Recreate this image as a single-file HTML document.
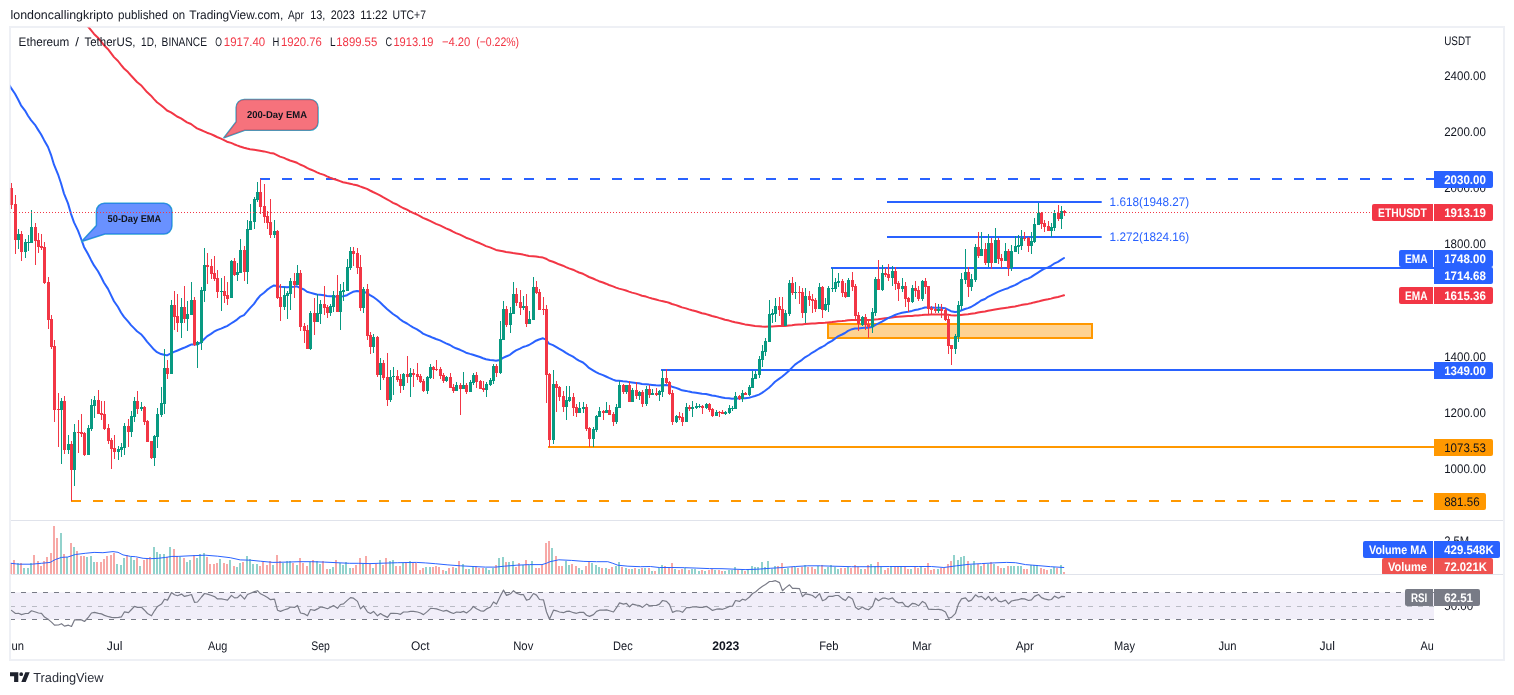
<!DOCTYPE html>
<html lang="en"><head><meta charset="utf-8"><title>ETHUSDT chart - TradingView</title>
<style>html,body{margin:0;padding:0;background:#fff;}body{width:1514px;height:695px;overflow:hidden;font-family:"Liberation Sans", "DejaVu Sans", sans-serif;}svg text{white-space:pre;text-rendering:geometricPrecision;}</style>
</head><body>
<svg width="1514" height="695" viewBox="0 0 1514 695" font-family='"Liberation Sans", "DejaVu Sans", sans-serif' style="display:block">
<rect x="0" y="0" width="1514" height="695" fill="#fff"/>
<defs><clipPath id="cm"><rect x="10.5" y="27.5" width="1492.5" height="492.5"/></clipPath><clipPath id="cv"><rect x="10.5" y="521" width="1492.5" height="53"/></clipPath><clipPath id="cr"><rect x="10.5" y="575" width="1492.5" height="58"/></clipPath><clipPath id="cvl"><rect x="1300" y="550" width="214" height="24"/></clipPath><clipPath id="ct"><rect x="11" y="633" width="1423" height="26"/></clipPath></defs>
<rect x="10" y="27" width="1494" height="633" fill="none" stroke="#eef0f5" stroke-width="2"/>
<g clip-path="url(#cm)">
<rect x="828" y="324" width="264" height="14" fill="#fed292" stroke="#ff9800" stroke-width="2"/>
<line x1="260" y1="179" x2="1434" y2="179" stroke="#2962ff" stroke-width="2" stroke-dasharray="10 12"/>
<line x1="887" y1="202" x2="1101.7" y2="202" stroke="#2962ff" stroke-width="2"/>
<line x1="887" y1="237" x2="1101.7" y2="237" stroke="#2962ff" stroke-width="2"/>
<line x1="831" y1="268" x2="1434" y2="268" stroke="#2962ff" stroke-width="2"/>
<line x1="661" y1="370" x2="1434" y2="370" stroke="#2962ff" stroke-width="2"/>
<line x1="548" y1="447" x2="1434" y2="447" stroke="#ff9800" stroke-width="2"/>
<line x1="71" y1="501" x2="1434" y2="501" stroke="#ff9800" stroke-width="2" stroke-dasharray="10 12"/>
<polyline fill="none" stroke="#f23645" stroke-width="2" stroke-linejoin="round" stroke-linecap="round" points="7.7,-59.5 11.0,-56.6 15.0,-53.7 18.0,-50.8 21.0,-47.8 25.0,-44.9 28.0,-42.1 31.0,-39.4 35.0,-36.6 38.0,-33.8 41.0,-31.0 44.0,-27.9 48.0,-24.4 51.0,-20.8 54.0,-16.5 58.0,-12.3 61.0,-8.1 64.0,-3.6 68.0,0.9 71.0,5.5 74.0,9.7 78.0,13.9 81.0,18.1 84.0,22.5 88.0,26.5 91.0,30.2 94.0,33.9 98.0,37.7 101.0,41.4 104.0,45.3 108.0,49.2 111.0,53.2 114.0,57.1 118.0,61.0 121.0,64.9 124.0,68.5 128.0,72.1 131.0,75.5 134.0,78.7 137.0,82.0 141.0,85.2 144.0,88.6 147.0,92.1 151.0,95.7 154.0,99.1 157.0,102.2 161.0,105.2 164.0,107.8 167.0,110.5 171.0,112.4 174.0,114.4 177.0,116.5 181.0,118.4 184.0,120.4 187.0,122.3 191.0,124.0 194.0,126.2 197.0,128.4 201.0,130.0 204.0,131.3 207.0,132.7 211.0,134.1 214.0,135.5 217.0,137.0 221.0,138.6 224.0,140.1 227.0,141.7 231.0,142.9 234.0,144.2 237.0,145.4 240.0,146.5 244.0,147.7 247.0,148.5 250.0,149.2 254.0,149.7 257.0,150.2 260.0,150.7 264.0,151.4 267.0,152.1 270.0,152.9 274.0,153.6 277.0,155.1 280.0,156.6 284.0,157.9 287.0,159.3 290.0,160.5 294.0,161.7 297.0,162.8 300.0,164.5 304.0,166.1 307.0,167.9 310.0,169.3 314.0,170.9 317.0,172.3 320.0,173.6 324.0,174.9 327.0,176.3 330.0,177.6 333.0,178.7 337.0,180.0 340.0,181.1 343.0,182.2 347.0,183.1 350.0,183.7 353.0,184.4 357.0,185.2 360.0,186.4 363.0,187.5 367.0,188.9 370.0,190.5 373.0,192.0 377.0,193.8 380.0,195.4 383.0,197.2 387.0,199.3 390.0,201.0 393.0,202.8 397.0,204.5 400.0,206.3 403.0,208.0 407.0,209.6 410.0,211.3 413.0,212.9 417.0,214.5 420.0,216.2 423.0,217.9 427.0,219.5 430.0,220.9 433.0,222.4 436.0,223.9 440.0,225.4 443.0,226.9 446.0,228.4 450.0,230.0 453.0,231.6 456.0,233.1 460.0,234.6 463.0,236.1 466.0,237.7 470.0,239.1 473.0,240.4 476.0,241.8 480.0,243.3 483.0,244.7 486.0,246.1 490.0,247.4 493.0,248.6 496.0,249.9 500.0,250.7 503.0,251.3 506.0,252.0 510.0,252.6 513.0,253.1 516.0,253.5 520.0,254.1 523.0,254.6 526.0,255.3 529.0,255.9 533.0,256.2 536.0,256.6 539.0,257.1 543.0,257.6 546.0,258.7 549.0,260.5 553.0,261.8 556.0,263.0 559.0,264.3 563.0,265.7 566.0,267.1 569.0,268.4 573.0,269.7 576.0,271.2 579.0,272.5 583.0,273.8 586.0,275.4 589.0,277.0 593.0,278.5 596.0,279.9 599.0,281.2 603.0,282.5 606.0,283.7 609.0,285.0 613.0,286.4 616.0,287.6 619.0,288.6 623.0,289.6 626.0,290.5 629.0,291.6 632.0,292.6 636.0,293.6 639.0,294.6 642.0,295.7 646.0,296.6 649.0,297.6 652.0,298.5 656.0,299.5 659.0,300.4 662.0,301.1 666.0,301.9 669.0,302.8 672.0,304.0 676.0,305.1 679.0,306.2 682.0,307.4 686.0,308.4 689.0,309.4 692.0,310.3 696.0,311.3 699.0,312.2 702.0,313.2 706.0,314.1 709.0,315.0 712.0,316.0 716.0,316.9 719.0,317.9 722.0,318.8 725.0,319.8 729.0,320.6 732.0,321.5 735.0,322.2 739.0,323.0 742.0,323.7 745.0,324.4 749.0,325.0 752.0,325.5 755.0,326.0 759.0,326.3 762.0,326.6 765.0,326.7 769.0,326.6 772.0,326.5 775.0,326.3 779.0,326.1 782.0,326.1 785.0,325.9 789.0,325.5 792.0,325.2 795.0,324.8 799.0,324.5 802.0,324.4 805.0,324.1 809.0,323.8 812.0,323.6 815.0,323.4 819.0,323.1 822.0,322.9 825.0,322.8 828.0,322.4 832.0,322.1 835.0,321.7 838.0,321.3 842.0,321.0 845.0,320.7 848.0,320.3 852.0,320.0 855.0,319.9 858.0,319.9 862.0,319.9 865.0,319.9 868.0,320.0 872.0,319.9 875.0,319.5 878.0,319.2 882.0,318.7 885.0,318.3 888.0,317.9 892.0,317.4 895.0,317.1 898.0,316.8 902.0,316.5 905.0,316.3 908.0,316.1 912.0,315.9 915.0,315.6 918.0,315.4 922.0,315.1 925.0,314.8 928.0,314.7 931.0,314.6 935.0,314.6 938.0,314.5 941.0,314.5 945.0,314.5 948.0,314.8 951.0,315.2 955.0,315.4 958.0,315.3 961.0,314.9 965.0,314.5 968.0,314.2 971.0,313.8 975.0,313.2 978.0,312.6 981.0,312.0 985.0,311.5 988.0,310.8 991.0,310.3 995.0,309.6 998.0,309.1 1001.0,308.6 1005.0,308.0 1008.0,307.6 1011.0,307.0 1015.0,306.4 1018.0,305.8 1021.0,305.1 1024.0,304.5 1028.0,303.9 1031.0,303.2 1034.0,302.4 1038.0,301.6 1041.0,300.8 1044.0,300.0 1048.0,299.3 1051.0,298.6 1054.0,297.8 1058.0,297.0 1061.0,296.1 1064.0,295.3"/>
<polyline fill="none" stroke="#2962ff" stroke-width="2" stroke-linejoin="round" stroke-linecap="round" points="7.7,82.7 11.0,87.9 15.0,93.8 18.0,99.3 21.0,105.3 25.0,110.6 28.0,115.8 31.0,120.1 35.0,124.8 38.0,129.6 41.0,134.2 44.0,139.9 48.0,147.0 51.0,154.8 54.0,164.7 58.0,174.3 61.0,183.2 64.0,193.6 68.0,203.4 71.0,213.8 74.0,222.4 78.0,230.6 81.0,238.5 84.0,246.9 88.0,254.0 91.0,259.9 94.0,265.4 98.0,271.2 101.0,276.8 104.0,282.7 108.0,288.9 111.0,295.1 114.0,301.2 118.0,307.0 121.0,312.5 124.0,316.9 128.0,321.4 131.0,325.1 134.0,328.1 137.0,331.2 141.0,334.2 144.0,337.6 147.0,341.6 151.0,346.1 154.0,349.6 157.0,352.2 161.0,354.1 164.0,354.7 167.0,355.4 171.0,353.4 174.0,351.9 177.0,350.7 181.0,349.0 184.0,347.8 187.0,346.5 191.0,344.6 194.0,344.6 197.0,344.5 201.0,342.4 204.0,339.3 207.0,336.4 211.0,333.9 214.0,331.7 217.0,330.1 221.0,328.6 224.0,327.3 227.0,326.1 231.0,323.5 234.0,321.6 237.0,319.6 240.0,316.9 244.0,315.1 247.0,311.7 250.0,308.1 254.0,303.9 257.0,299.5 260.0,295.8 264.0,292.7 267.0,289.9 270.0,287.7 274.0,285.4 277.0,285.9 280.0,286.7 284.0,287.0 287.0,287.2 290.0,287.0 294.0,286.8 297.0,286.3 300.0,287.8 304.0,289.5 307.0,291.8 310.0,292.6 314.0,293.7 317.0,294.5 320.0,294.8 324.0,295.3 327.0,295.9 330.0,296.3 333.0,296.3 337.0,296.8 340.0,296.6 343.0,296.3 347.0,295.2 350.0,293.4 353.0,291.8 357.0,290.9 360.0,291.5 363.0,291.4 367.0,293.1 370.0,295.1 373.0,296.8 377.0,299.8 380.0,302.3 383.0,305.2 387.0,308.9 390.0,311.5 393.0,314.0 397.0,316.6 400.0,319.3 403.0,321.4 407.0,323.5 410.0,325.5 413.0,327.4 417.0,329.3 420.0,331.3 423.0,333.6 427.0,335.3 430.0,336.5 433.0,337.8 436.0,339.0 440.0,340.4 443.0,341.9 446.0,343.3 450.0,345.0 453.0,346.8 456.0,348.3 460.0,349.8 463.0,351.2 466.0,352.7 470.0,353.9 473.0,354.7 476.0,355.7 480.0,357.0 483.0,358.2 486.0,359.2 490.0,360.0 493.0,360.3 496.0,360.7 500.0,359.9 503.0,357.9 506.0,356.5 510.0,354.8 513.0,352.4 516.0,350.4 520.0,348.7 523.0,347.0 526.0,346.1 529.0,345.0 533.0,342.7 536.0,340.7 539.0,339.5 543.0,338.3 546.0,339.7 549.0,343.6 553.0,345.1 556.0,346.8 559.0,348.7 563.0,350.9 566.0,352.8 569.0,354.6 573.0,356.6 576.0,358.8 579.0,360.7 583.0,362.5 586.0,365.1 589.0,367.9 593.0,370.3 596.0,372.1 599.0,373.6 603.0,375.1 606.0,376.5 609.0,377.9 613.0,379.6 616.0,380.7 619.0,380.8 623.0,381.2 626.0,381.4 629.0,382.1 632.0,382.4 636.0,382.9 639.0,383.3 642.0,384.0 646.0,384.2 649.0,384.6 652.0,384.9 656.0,385.3 659.0,385.5 662.0,385.2 666.0,385.1 669.0,385.4 672.0,386.7 676.0,387.9 679.0,389.0 682.0,390.3 686.0,390.9 689.0,391.6 692.0,392.2 696.0,392.7 699.0,393.2 702.0,393.8 706.0,394.1 709.0,394.7 712.0,395.5 716.0,396.1 719.0,396.8 722.0,397.4 725.0,398.0 729.0,398.3 732.0,398.7 735.0,398.6 739.0,398.6 742.0,398.3 745.0,398.2 749.0,397.7 752.0,396.9 755.0,396.0 759.0,394.6 762.0,392.9 765.0,390.8 769.0,387.8 772.0,384.9 775.0,381.8 779.0,378.9 782.0,376.8 785.0,374.3 789.0,370.7 792.0,367.6 795.0,364.6 799.0,361.8 802.0,359.8 805.0,357.3 809.0,355.0 812.0,352.8 815.0,351.1 819.0,348.5 822.0,347.0 825.0,345.3 828.0,343.0 832.0,340.9 835.0,338.6 838.0,336.3 842.0,334.5 845.0,333.0 848.0,330.9 852.0,329.2 855.0,328.6 858.0,328.4 862.0,327.9 865.0,327.8 868.0,327.7 872.0,327.1 875.0,325.2 878.0,323.7 882.0,321.7 885.0,319.9 888.0,318.2 892.0,316.3 895.0,315.0 898.0,313.9 902.0,312.8 905.0,312.2 908.0,311.8 912.0,310.9 915.0,310.0 918.0,309.5 922.0,308.4 925.0,307.5 928.0,307.5 931.0,307.6 935.0,307.7 938.0,307.7 941.0,307.8 945.0,308.2 948.0,309.7 951.0,311.2 955.0,312.1 958.0,311.8 961.0,310.5 965.0,309.0 968.0,308.1 971.0,307.0 975.0,304.6 978.0,302.7 981.0,300.5 985.0,299.0 988.0,296.8 991.0,295.4 995.0,293.3 998.0,291.9 1001.0,290.6 1005.0,289.1 1008.0,288.2 1011.0,286.7 1015.0,285.1 1018.0,283.5 1021.0,281.7 1024.0,280.0 1028.0,278.6 1031.0,277.1 1034.0,275.1 1038.0,272.6 1041.0,270.7 1044.0,268.9 1048.0,267.4 1051.0,265.8 1054.0,263.7 1058.0,261.9 1061.0,259.9 1064.0,258.0"/>
<path fill="#089981" d="M18 229h1v20h-1zM17 234h3v6h-3zM25 239h1v19h-1zM24 242h3v10h-3zM28 235h1v16h-1zM27 242h3v1h-3zM31 210h1v33h-1zM30 227h3v16h-3zM61 398h1v66h-1zM60 401h3v9h-3zM68 435h1v19h-1zM67 444h3v6h-3zM74 424h1v62h-1zM73 432h3v38h-3zM88 425h1v30h-1zM87 428h3v27h-3zM91 399h1v32h-1zM90 405h3v24h-3zM94 396h1v22h-1zM93 400h3v6h-3zM118 446h1v14h-1zM117 449h3v3h-3zM121 443h1v14h-1zM120 447h3v3h-3zM124 423h1v32h-1zM123 426h3v22h-3zM131 411h1v26h-1zM130 416h3v16h-3zM134 397h1v25h-1zM133 401h3v16h-3zM141 402h1v9h-1zM140 407h3v2h-3zM154 435h1v31h-1zM153 436h3v22h-3zM157 408h1v40h-1zM156 414h3v23h-3zM161 387h1v30h-1zM160 403h3v12h-3zM164 349h1v65h-1zM163 368h3v36h-3zM171 300h1v74h-1zM170 305h3v69h-3zM181 298h1v40h-1zM180 307h3v16h-3zM187 301h1v30h-1zM186 314h3v5h-3zM191 282h1v33h-1zM190 300h3v15h-3zM197 341h1v27h-1zM196 342h3v3h-3zM201 287h1v63h-1zM200 290h3v53h-3zM204 248h1v54h-1zM203 265h3v26h-3zM221 278h1v33h-1zM220 291h3v1h-3zM231 260h1v38h-1zM230 261h3v37h-3zM237 263h1v18h-1zM236 272h3v3h-3zM240 239h1v34h-1zM239 250h3v23h-3zM247 220h1v64h-1zM246 229h3v43h-3zM250 204h1v26h-1zM249 221h3v9h-3zM254 197h1v32h-1zM253 199h3v23h-3zM257 182h1v20h-1zM256 192h3v8h-3zM274 220h1v18h-1zM273 231h3v4h-3zM284 287h1v23h-1zM283 295h3v12h-3zM287 291h1v28h-1zM286 293h3v3h-3zM290 278h1v32h-1zM289 281h3v13h-3zM297 265h1v20h-1zM296 273h3v12h-3zM310 311h1v39h-1zM309 313h3v36h-3zM317 294h1v28h-1zM316 313h3v9h-3zM320 300h1v24h-1zM319 304h3v10h-3zM330 304h1v12h-1zM329 306h3v7h-3zM333 291h1v21h-1zM332 295h3v12h-3zM340 284h1v46h-1zM339 291h3v21h-3zM343 282h1v19h-1zM342 290h3v2h-3zM347 259h1v32h-1zM346 267h3v24h-3zM350 247h1v23h-1zM349 251h3v17h-3zM363 287h1v26h-1zM362 289h3v19h-3zM373 334h1v19h-1zM372 337h3v10h-3zM380 358h1v32h-1zM379 363h3v12h-3zM390 370h1v32h-1zM389 377h3v23h-3zM393 367h1v28h-1zM392 376h3v1h-3zM403 373h1v17h-1zM402 374h3v12h-3zM410 368h1v29h-1zM409 373h3v4h-3zM427 376h1v18h-1zM426 377h3v14h-3zM430 364h1v15h-1zM429 367h3v11h-3zM446 376h1v6h-1zM445 377h3v4h-3zM456 382h1v9h-1zM455 385h3v6h-3zM463 372h1v17h-1zM462 385h3v4h-3zM470 380h1v12h-1zM469 382h3v10h-3zM473 373h1v12h-1zM472 375h3v8h-3zM486 382h1v15h-1zM485 384h3v6h-3zM490 378h1v8h-1zM489 380h3v5h-3zM493 364h1v20h-1zM492 366h3v15h-3zM500 321h1v53h-1zM499 339h3v34h-3zM503 301h1v39h-1zM502 309h3v31h-3zM510 307h1v26h-1zM509 313h3v12h-3zM513 282h1v32h-1zM512 294h3v20h-3zM523 296h1v14h-1zM522 306h3v2h-3zM529 311h1v13h-1zM528 319h3v5h-3zM533 277h1v43h-1zM532 287h3v33h-3zM553 370h1v74h-1zM552 384h3v56h-3zM566 386h1v34h-1zM565 400h3v7h-3zM569 386h1v16h-1zM568 397h3v4h-3zM579 402h1v11h-1zM578 408h3v5h-3zM583 402h1v11h-1zM582 407h3v2h-3zM593 427h1v20h-1zM592 429h3v10h-3zM596 415h1v17h-1zM595 416h3v14h-3zM599 407h1v10h-1zM598 411h3v6h-3zM606 402h1v11h-1zM605 410h3v3h-3zM616 404h1v20h-1zM615 407h3v15h-3zM619 381h1v27h-1zM618 385h3v23h-3zM626 385h1v9h-1zM625 385h3v7h-3zM632 388h1v14h-1zM631 390h3v12h-3zM639 391h1v9h-1zM638 392h3v4h-3zM646 386h1v20h-1zM645 389h3v15h-3zM652 389h1v6h-1zM651 393h3v2h-3zM659 390h1v11h-1zM658 391h3v4h-3zM662 370h1v27h-1zM661 378h3v14h-3zM676 415h1v8h-1zM675 416h3v6h-3zM686 403h1v19h-1zM685 407h3v15h-3zM692 401h1v16h-1zM691 407h3v2h-3zM696 403h1v6h-1zM695 406h3v2h-3zM699 404h1v4h-1zM698 406h3v1h-3zM706 403h1v6h-1zM705 404h3v4h-3zM716 410h1v6h-1zM715 412h3v4h-3zM725 411h1v4h-1zM724 412h3v2h-3zM729 405h1v9h-1zM728 408h3v5h-3zM732 406h1v5h-1zM731 408h3v1h-3zM735 392h1v17h-1zM734 396h3v13h-3zM742 390h1v12h-1zM741 393h3v6h-3zM749 385h1v11h-1zM748 387h3v8h-3zM752 371h1v17h-1zM751 378h3v10h-3zM755 371h1v8h-1zM754 374h3v5h-3zM759 356h1v22h-1zM758 359h3v16h-3zM762 345h1v22h-1zM761 351h3v9h-3zM765 338h1v18h-1zM764 341h3v11h-3zM769 300h1v42h-1zM768 314h3v28h-3zM772 309h1v14h-1zM771 313h3v2h-3zM775 298h1v24h-1zM774 306h3v8h-3zM785 310h1v16h-1zM784 313h3v13h-3zM789 280h1v36h-1zM788 283h3v31h-3zM795 282h1v17h-1zM794 292h3v1h-3zM805 288h1v35h-1zM804 296h3v17h-3zM819 283h1v26h-1zM818 287h3v22h-3zM825 298h1v13h-1zM824 304h3v6h-3zM828 286h1v26h-1zM827 288h3v17h-3zM832 268h1v24h-1zM831 288h3v1h-3zM835 278h1v14h-1zM834 282h3v7h-3zM838 273h1v14h-1zM837 281h3v2h-3zM848 278h1v19h-1zM847 280h3v17h-3zM862 316h1v10h-1zM861 317h3v8h-3zM872 308h1v25h-1zM871 312h3v15h-3zM875 277h1v39h-1zM874 279h3v34h-3zM882 265h1v26h-1zM881 273h3v17h-3zM892 266h1v20h-1zM891 271h3v7h-3zM902 278h1v14h-1zM901 286h3v3h-3zM912 285h1v18h-1zM911 288h3v14h-3zM922 280h1v21h-1zM921 281h3v18h-3zM938 304h1v9h-1zM937 309h3v2h-3zM955 334h1v20h-1zM954 336h3v13h-3zM958 301h1v41h-1zM957 305h3v32h-3zM961 273h1v37h-1zM960 279h3v27h-3zM965 249h1v35h-1zM964 272h3v8h-3zM971 274h1v17h-1zM970 279h3v8h-3zM975 244h1v38h-1zM974 247h3v33h-3zM981 232h1v24h-1zM980 249h3v7h-3zM988 234h1v33h-1zM987 243h3v20h-3zM995 228h1v35h-1zM994 240h3v23h-3zM1005 243h1v18h-1zM1004 251h3v10h-3zM1011 245h1v26h-1zM1010 251h3v17h-3zM1015 236h1v16h-1zM1014 246h3v6h-3zM1018 235h1v19h-1zM1017 245h3v2h-3zM1021 230h1v20h-1zM1020 238h3v8h-3zM1031 232h1v22h-1zM1030 241h3v5h-3zM1034 218h1v25h-1zM1033 224h3v18h-3zM1038 203h1v22h-1zM1037 213h3v12h-3zM1051 223h1v14h-1zM1050 227h3v4h-3zM1054 210h1v21h-1zM1053 213h3v15h-3zM1061 206h1v23h-1zM1060 211h3v8h-3z"/>
<path fill="#f23645" d="M11 183h1v26h-1zM10 188h3v17h-3zM15 195h1v59h-1zM14 204h3v36h-3zM21 231h1v30h-1zM20 234h3v18h-3zM35 223h1v42h-1zM34 227h3v14h-3zM38 233h1v20h-1zM37 240h3v7h-3zM41 234h1v16h-1zM40 246h3v2h-3zM44 242h1v42h-1zM43 247h3v36h-3zM48 277h1v52h-1zM47 282h3v38h-3zM51 315h1v34h-1zM50 319h3v28h-3zM54 340h1v82h-1zM53 346h3v64h-3zM58 393h1v54h-1zM57 409h3v1h-3zM64 396h1v58h-1zM63 401h3v49h-3zM71 441h1v60h-1zM70 444h3v26h-3zM78 420h1v33h-1zM77 432h3v1h-3zM81 414h1v23h-1zM80 432h3v2h-3zM84 432h1v24h-1zM83 433h3v22h-3zM98 390h1v24h-1zM97 400h3v14h-3zM101 401h1v19h-1zM100 413h3v2h-3zM104 401h1v29h-1zM103 414h3v15h-3zM108 424h1v20h-1zM107 428h3v13h-3zM111 438h1v31h-1zM110 440h3v9h-3zM114 435h1v24h-1zM113 448h3v4h-3zM128 419h1v28h-1zM127 426h3v6h-3zM137 391h1v23h-1zM136 401h3v8h-3zM144 406h1v19h-1zM143 407h3v15h-3zM147 420h1v22h-1zM146 421h3v21h-3zM151 441h1v18h-1zM150 441h3v17h-3zM167 360h1v19h-1zM166 368h3v6h-3zM174 291h1v39h-1zM173 305h3v12h-3zM177 294h1v38h-1zM176 316h3v7h-3zM184 286h1v37h-1zM183 307h3v12h-3zM194 297h1v49h-1zM193 300h3v45h-3zM207 253h1v31h-1zM206 265h3v2h-3zM211 259h1v20h-1zM210 266h3v8h-3zM214 256h1v25h-1zM213 273h3v6h-3zM217 270h1v28h-1zM216 278h3v14h-3zM224 276h1v27h-1zM223 291h3v5h-3zM227 282h1v23h-1zM226 295h3v4h-3zM234 258h1v18h-1zM233 261h3v14h-3zM244 246h1v35h-1zM243 250h3v22h-3zM260 179h1v35h-1zM259 192h3v15h-3zM264 184h1v39h-1zM263 206h3v11h-3zM267 211h1v18h-1zM266 216h3v7h-3zM270 199h1v39h-1zM269 222h3v13h-3zM277 230h1v69h-1zM276 231h3v67h-3zM280 284h1v37h-1zM279 297h3v10h-3zM294 273h1v25h-1zM293 281h3v4h-3zM300 270h1v61h-1zM299 273h3v54h-3zM304 323h1v20h-1zM303 326h3v5h-3zM307 325h1v24h-1zM306 330h3v19h-3zM314 298h1v37h-1zM313 313h3v9h-3zM324 286h1v29h-1zM323 304h3v4h-3zM327 305h1v13h-1zM326 307h3v6h-3zM337 275h1v37h-1zM336 295h3v17h-3zM353 247h1v19h-1zM352 251h3v3h-3zM357 248h1v26h-1zM356 253h3v15h-3zM360 255h1v56h-1zM359 267h3v41h-3zM367 284h1v56h-1zM366 289h3v47h-3zM370 332h1v22h-1zM369 335h3v12h-3zM377 336h1v41h-1zM376 337h3v38h-3zM383 360h1v20h-1zM382 363h3v15h-3zM387 353h1v53h-1zM386 377h3v23h-3zM397 370h1v12h-1zM396 376h3v4h-3zM400 374h1v19h-1zM399 379h3v7h-3zM407 356h1v27h-1zM406 374h3v3h-3zM413 369h1v18h-1zM412 373h3v2h-3zM417 363h1v17h-1zM416 374h3v3h-3zM420 374h1v9h-1zM419 376h3v6h-3zM423 379h1v13h-1zM422 381h3v10h-3zM433 366h1v13h-1zM432 367h3v3h-3zM436 360h1v11h-1zM435 369h3v1h-3zM440 367h1v12h-1zM439 369h3v7h-3zM443 373h1v10h-1zM442 375h3v6h-3zM450 373h1v15h-1zM449 377h3v11h-3zM453 384h1v9h-1zM452 387h3v4h-3zM460 383h1v32h-1zM459 385h3v4h-3zM466 383h1v11h-1zM465 385h3v7h-3zM476 372h1v16h-1zM475 375h3v7h-3zM480 380h1v9h-1zM479 381h3v8h-3zM483 381h1v11h-1zM482 388h3v2h-3zM496 364h1v13h-1zM495 366h3v7h-3zM506 306h1v21h-1zM505 309h3v16h-3zM516 288h1v18h-1zM515 294h3v9h-3zM520 290h1v25h-1zM519 302h3v6h-3zM526 294h1v33h-1zM525 306h3v18h-3zM536 281h1v13h-1zM535 287h3v6h-3zM539 289h1v21h-1zM538 292h3v18h-3zM543 297h1v18h-1zM542 309h3v1h-3zM546 305h1v98h-1zM545 309h3v66h-3zM549 373h1v74h-1zM548 374h3v66h-3zM556 381h1v31h-1zM555 384h3v4h-3zM559 386h1v15h-1zM558 387h3v10h-3zM563 391h1v21h-1zM562 396h3v11h-3zM573 393h1v23h-1zM572 397h3v11h-3zM576 404h1v13h-1zM575 407h3v6h-3zM586 404h1v27h-1zM585 407h3v22h-3zM589 427h1v20h-1zM588 428h3v11h-3zM603 410h1v10h-1zM602 411h3v2h-3zM609 405h1v10h-1zM608 410h3v5h-3zM613 412h1v14h-1zM612 414h3v8h-3zM623 384h1v10h-1zM622 385h3v7h-3zM629 381h1v21h-1zM628 385h3v17h-3zM636 382h1v17h-1zM635 390h3v6h-3zM642 390h1v17h-1zM641 392h3v12h-3zM649 385h1v13h-1zM648 389h3v6h-3zM656 388h1v8h-1zM655 393h3v2h-3zM666 369h1v15h-1zM665 378h3v5h-3zM669 381h1v14h-1zM668 382h3v12h-3zM672 390h1v35h-1zM671 393h3v29h-3zM679 412h1v8h-1zM678 416h3v2h-3zM682 413h1v13h-1zM681 417h3v5h-3zM689 405h1v6h-1zM688 407h3v2h-3zM702 405h1v9h-1zM701 406h3v2h-3zM709 403h1v9h-1zM708 404h3v6h-3zM712 408h1v9h-1zM711 409h3v7h-3zM719 411h1v6h-1zM718 412h3v1h-3zM722 410h1v4h-1zM721 412h3v2h-3zM739 395h1v5h-1zM738 396h3v3h-3zM745 392h1v3h-1zM744 393h3v2h-3zM779 297h1v19h-1zM778 306h3v4h-3zM782 297h1v29h-1zM781 309h3v17h-3zM792 277h1v18h-1zM791 283h3v10h-3zM799 286h1v18h-1zM798 292h3v1h-3zM802 288h1v30h-1zM801 292h3v21h-3zM809 291h1v15h-1zM808 296h3v4h-3zM812 294h1v19h-1zM811 299h3v2h-3zM815 298h1v14h-1zM814 300h3v9h-3zM822 286h1v32h-1zM821 287h3v23h-3zM842 279h1v18h-1zM841 281h3v12h-3zM845 283h1v15h-1zM844 292h3v5h-3zM852 272h1v19h-1zM851 280h3v7h-3zM855 284h1v35h-1zM854 286h3v30h-3zM858 312h1v19h-1zM857 315h3v9h-3zM865 314h1v16h-1zM864 317h3v8h-3zM868 321h1v17h-1zM867 324h3v3h-3zM878 260h1v30h-1zM877 279h3v11h-3zM885 268h1v9h-1zM884 273h3v2h-3zM888 264h1v17h-1zM887 274h3v4h-3zM895 267h1v23h-1zM894 271h3v13h-3zM898 281h1v20h-1zM897 283h3v6h-3zM905 282h1v25h-1zM904 286h3v13h-3zM908 297h1v15h-1zM907 298h3v4h-3zM915 281h1v16h-1zM914 288h3v3h-3zM918 286h1v15h-1zM917 290h3v9h-3zM925 278h1v16h-1zM924 281h3v6h-3zM928 286h1v28h-1zM927 286h3v23h-3zM931 306h1v8h-1zM930 308h3v2h-3zM935 303h1v10h-1zM934 309h3v2h-3zM941 304h1v14h-1zM940 309h3v2h-3zM945 308h1v13h-1zM944 310h3v10h-3zM948 316h1v38h-1zM947 319h3v27h-3zM951 345h1v20h-1zM950 345h3v4h-3zM968 267h1v30h-1zM967 272h3v15h-3zM978 232h1v26h-1zM977 247h3v9h-3zM985 243h1v22h-1zM984 249h3v14h-3zM991 238h1v31h-1zM990 243h3v20h-3zM998 238h1v26h-1zM997 240h3v19h-3zM1001 254h1v14h-1zM1000 258h3v3h-3zM1008 249h1v27h-1zM1007 251h3v17h-3zM1024 232h1v9h-1zM1023 238h3v1h-3zM1028 237h1v15h-1zM1027 238h3v8h-3zM1041 212h1v17h-1zM1040 213h3v11h-3zM1044 220h1v12h-1zM1043 223h3v4h-3zM1048 221h1v10h-1zM1047 226h3v5h-3zM1058 205h1v16h-1zM1057 213h3v6h-3zM1064 210h1v6h-1zM1063 211h3v2h-3z"/>
<path d="M244.2 99.4H310A8 8 0 0 1 318 107.4V122.19999999999999A8 8 0 0 1 310 130.2H244.7L223.9 137.7L236.2 121.69999999999999V107.4A8 8 0 0 1 244.2 99.4Z" fill="none" stroke="#2fa8cc" stroke-width="1.5" stroke-linejoin="round"/>
<path d="M244.2 99.4H310A8 8 0 0 1 318 107.4V122.19999999999999A8 8 0 0 1 310 130.2H244.7L223.9 137.7L236.2 121.69999999999999V107.4A8 8 0 0 1 244.2 99.4Z" fill="rgba(242,54,69,0.7)"/>
<text x="247.1" y="117.9" font-size="10" fill="#10131c" font-weight="700" textLength="59.9" lengthAdjust="spacingAndGlyphs" style="text-rendering:geometricPrecision">200-Day EMA</text>
<path d="M104.4 203.3H163.9A8 8 0 0 1 171.9 211.3V226A8 8 0 0 1 163.9 234H104.9L81.6 241.5L96.4 225.5V211.3A8 8 0 0 1 104.4 203.3Z" fill="none" stroke="#2fa8cc" stroke-width="1.5" stroke-linejoin="round"/>
<path d="M104.4 203.3H163.9A8 8 0 0 1 171.9 211.3V226A8 8 0 0 1 163.9 234H104.9L81.6 241.5L96.4 225.5V211.3A8 8 0 0 1 104.4 203.3Z" fill="rgba(41,98,255,0.7)"/>
<text x="107.6" y="221.7" font-size="10" fill="#10131c" font-weight="700" textLength="53.7" lengthAdjust="spacingAndGlyphs" style="text-rendering:geometricPrecision">50-Day EMA</text>
<line x1="10" y1="212.5" x2="1372" y2="212.5" stroke="#f23645" stroke-width="1" stroke-dasharray="1 2"/>
<text x="1109.6" y="206.1" font-size="12.4" fill="#2962ff" textLength="79.7" lengthAdjust="spacingAndGlyphs">1.618(1948.27)</text>
<text x="1109.6" y="241.1" font-size="12.4" fill="#2962ff" textLength="79.7" lengthAdjust="spacingAndGlyphs">1.272(1824.16)</text>
<text y="45.9" font-size="12.4" fill="#131722"><tspan x="18.6" textLength="50.8" lengthAdjust="spacingAndGlyphs">Ethereum</tspan> <tspan x="75.2" textLength="3.7" lengthAdjust="spacingAndGlyphs">/</tspan> <tspan x="84.5" textLength="51.0" lengthAdjust="spacingAndGlyphs">TetherUS,</tspan> <tspan x="141.1" textLength="15.6" lengthAdjust="spacingAndGlyphs">1D,</tspan> <tspan x="161.6" textLength="45.4" lengthAdjust="spacingAndGlyphs">BINANCE</tspan> <tspan x="215.3" textLength="6.7" lengthAdjust="spacingAndGlyphs">O</tspan><tspan x="223.8" textLength="41.4" lengthAdjust="spacingAndGlyphs" fill="#f23645">1917.40</tspan> <tspan x="272.5" textLength="6.8" lengthAdjust="spacingAndGlyphs">H</tspan><tspan x="281" textLength="40.9" lengthAdjust="spacingAndGlyphs" fill="#f23645">1920.76</tspan> <tspan x="329.9" textLength="5.6" lengthAdjust="spacingAndGlyphs">L</tspan><tspan x="336.3" textLength="40.9" lengthAdjust="spacingAndGlyphs" fill="#f23645">1899.55</tspan> <tspan x="385.4" textLength="6.6" lengthAdjust="spacingAndGlyphs">C</tspan><tspan x="393.4" textLength="40.1" lengthAdjust="spacingAndGlyphs" fill="#f23645">1913.19</tspan> <tspan x="441.9" textLength="28.5" lengthAdjust="spacingAndGlyphs" fill="#f23645">−4.20</tspan> <tspan x="476.2" textLength="42.9" lengthAdjust="spacingAndGlyphs" fill="#f23645">(−0.22%)</tspan></text>
</g>
<g clip-path="url(#cv)">
<path fill="#92d2cc" d="M17 563h2v11h-2zM23 568h2v6h-2zM27 568h2v6h-2zM30 563h2v11h-2zM60 533h2v41h-2zM66 557h2v17h-2zM73 547h2v27h-2zM86 557h2v17h-2zM90 556h2v18h-2zM93 562h2v12h-2zM116 564h2v10h-2zM120 565h2v9h-2zM123 558h2v16h-2zM130 557h2v17h-2zM133 560h2v14h-2zM139 566h2v8h-2zM153 547h2v27h-2zM156 552h2v22h-2zM159 554h2v20h-2zM163 554h2v20h-2zM169 547h2v27h-2zM179 557h2v17h-2zM186 562h2v12h-2zM189 560h2v14h-2zM196 558h2v16h-2zM199 554h2v20h-2zM203 553h2v21h-2zM219 559h2v15h-2zM229 560h2v14h-2zM236 567h2v7h-2zM239 563h2v11h-2zM246 556h2v18h-2zM249 559h2v15h-2zM252 564h2v10h-2zM256 564h2v10h-2zM272 565h2v9h-2zM282 563h2v11h-2zM286 561h2v13h-2zM289 561h2v13h-2zM296 565h2v9h-2zM309 562h2v12h-2zM316 561h2v13h-2zM319 564h2v10h-2zM329 569h2v5h-2zM332 567h2v7h-2zM339 563h2v11h-2zM342 565h2v9h-2zM345 562h2v12h-2zM349 568h2v6h-2zM362 564h2v10h-2zM372 568h2v6h-2zM379 560h2v14h-2zM389 561h2v13h-2zM392 560h2v14h-2zM402 563h2v11h-2zM409 561h2v13h-2zM425 567h2v7h-2zM429 567h2v7h-2zM445 571h2v3h-2zM455 568h2v6h-2zM462 564h2v10h-2zM468 569h2v5h-2zM472 567h2v7h-2zM485 568h2v6h-2zM488 570h2v4h-2zM492 568h2v6h-2zM498 558h2v16h-2zM502 557h2v17h-2zM508 562h2v12h-2zM512 561h2v13h-2zM522 565h2v9h-2zM528 565h2v9h-2zM531 561h2v13h-2zM551 548h2v26h-2zM565 561h2v13h-2zM568 565h2v9h-2zM578 568h2v6h-2zM581 570h2v4h-2zM591 563h2v11h-2zM595 565h2v9h-2zM598 567h2v7h-2zM605 568h2v6h-2zM615 566h2v8h-2zM618 562h2v12h-2zM625 568h2v6h-2zM631 569h2v5h-2zM638 569h2v5h-2zM644 568h2v6h-2zM651 571h2v3h-2zM658 568h2v6h-2zM661 565h2v9h-2zM674 569h2v5h-2zM684 568h2v6h-2zM691 569h2v5h-2zM694 569h2v5h-2zM698 571h2v3h-2zM704 571h2v3h-2zM714 570h2v4h-2zM724 571h2v3h-2zM728 570h2v4h-2zM731 570h2v4h-2zM734 567h2v7h-2zM741 570h2v4h-2zM747 570h2v4h-2zM751 566h2v8h-2zM754 567h2v7h-2zM757 567h2v7h-2zM761 562h2v12h-2zM764 567h2v7h-2zM767 561h2v13h-2zM771 569h2v5h-2zM774 566h2v8h-2zM784 569h2v5h-2zM787 568h2v6h-2zM794 567h2v7h-2zM804 565h2v9h-2zM817 566h2v8h-2zM824 569h2v5h-2zM827 567h2v7h-2zM830 565h2v9h-2zM834 567h2v7h-2zM837 569h2v5h-2zM847 567h2v7h-2zM860 569h2v5h-2zM870 564h2v10h-2zM874 566h2v8h-2zM880 567h2v7h-2zM890 567h2v7h-2zM900 567h2v7h-2zM910 569h2v5h-2zM920 567h2v7h-2zM937 569h2v5h-2zM953 555h2v19h-2zM957 560h2v14h-2zM960 557h2v17h-2zM963 556h2v18h-2zM970 565h2v9h-2zM973 561h2v13h-2zM980 566h2v8h-2zM987 564h2v10h-2zM993 564h2v10h-2zM1003 568h2v6h-2zM1010 566h2v8h-2zM1013 566h2v8h-2zM1017 566h2v8h-2zM1020 566h2v8h-2zM1030 565h2v9h-2zM1033 565h2v9h-2zM1036 565h2v9h-2zM1050 569h2v5h-2zM1053 567h2v7h-2zM1060 565h2v9h-2z"/>
<path fill="#f7a9a7" d="M10 563h2v11h-2zM13 560h2v14h-2zM20 563h2v11h-2zM33 555h2v19h-2zM37 561h2v13h-2zM40 566h2v8h-2zM43 561h2v13h-2zM46 557h2v17h-2zM50 553h2v21h-2zM53 526h2v48h-2zM56 538h2v36h-2zM63 554h2v20h-2zM70 543h2v31h-2zM76 551h2v23h-2zM80 556h2v18h-2zM83 556h2v18h-2zM96 562h2v12h-2zM100 562h2v12h-2zM103 559h2v15h-2zM106 556h2v18h-2zM110 555h2v19h-2zM113 553h2v21h-2zM126 555h2v19h-2zM136 558h2v16h-2zM143 560h2v14h-2zM146 559h2v15h-2zM149 557h2v17h-2zM166 557h2v17h-2zM173 549h2v25h-2zM176 556h2v18h-2zM183 558h2v16h-2zM193 555h2v19h-2zM206 557h2v17h-2zM209 564h2v10h-2zM213 564h2v10h-2zM216 563h2v11h-2zM223 563h2v11h-2zM226 564h2v10h-2zM233 566h2v8h-2zM242 562h2v12h-2zM259 566h2v8h-2zM262 562h2v12h-2zM266 565h2v9h-2zM269 561h2v13h-2zM276 555h2v19h-2zM279 561h2v13h-2zM292 563h2v11h-2zM299 558h2v16h-2zM302 563h2v11h-2zM306 566h2v8h-2zM312 560h2v14h-2zM322 561h2v13h-2zM326 569h2v5h-2zM335 560h2v14h-2zM352 568h2v6h-2zM355 565h2v9h-2zM359 558h2v16h-2zM365 556h2v18h-2zM369 564h2v10h-2zM375 564h2v10h-2zM382 565h2v9h-2zM385 558h2v16h-2zM395 566h2v8h-2zM399 566h2v8h-2zM405 562h2v12h-2zM412 563h2v11h-2zM415 563h2v11h-2zM419 570h2v4h-2zM422 568h2v6h-2zM432 567h2v7h-2zM435 566h2v8h-2zM438 567h2v7h-2zM442 570h2v4h-2zM448 568h2v6h-2zM452 567h2v7h-2zM458 561h2v13h-2zM465 569h2v5h-2zM475 566h2v8h-2zM478 568h2v6h-2zM482 568h2v6h-2zM495 565h2v9h-2zM505 562h2v12h-2zM515 567h2v7h-2zM518 563h2v11h-2zM525 560h2v14h-2zM535 568h2v6h-2zM538 568h2v6h-2zM541 565h2v9h-2zM545 543h2v31h-2zM548 541h2v33h-2zM555 556h2v18h-2zM558 566h2v8h-2zM561 566h2v8h-2zM571 564h2v10h-2zM575 566h2v8h-2zM585 566h2v8h-2zM588 562h2v12h-2zM601 568h2v6h-2zM608 569h2v5h-2zM611 567h2v7h-2zM621 567h2v7h-2zM628 569h2v5h-2zM634 568h2v6h-2zM641 568h2v6h-2zM648 568h2v6h-2zM654 571h2v3h-2zM664 566h2v8h-2zM668 568h2v6h-2zM671 563h2v11h-2zM678 570h2v4h-2zM681 569h2v5h-2zM688 570h2v4h-2zM701 570h2v4h-2zM708 570h2v4h-2zM711 569h2v5h-2zM718 570h2v4h-2zM721 571h2v3h-2zM737 570h2v4h-2zM744 571h2v3h-2zM777 566h2v8h-2zM781 563h2v11h-2zM791 567h2v7h-2zM797 568h2v6h-2zM801 567h2v7h-2zM807 567h2v7h-2zM811 567h2v7h-2zM814 569h2v5h-2zM821 565h2v9h-2zM840 568h2v6h-2zM844 568h2v6h-2zM850 568h2v6h-2zM854 565h2v9h-2zM857 567h2v7h-2zM864 569h2v5h-2zM867 565h2v9h-2zM877 562h2v12h-2zM884 570h2v4h-2zM887 568h2v6h-2zM894 566h2v8h-2zM897 566h2v8h-2zM904 566h2v8h-2zM907 569h2v5h-2zM914 567h2v7h-2zM917 568h2v6h-2zM924 568h2v6h-2zM927 563h2v11h-2zM930 570h2v4h-2zM933 569h2v5h-2zM940 568h2v6h-2zM943 568h2v6h-2zM947 564h2v10h-2zM950 561h2v13h-2zM967 561h2v13h-2zM977 564h2v10h-2zM983 564h2v10h-2zM990 562h2v12h-2zM997 566h2v8h-2zM1000 568h2v6h-2zM1007 566h2v8h-2zM1023 569h2v5h-2zM1026 569h2v5h-2zM1040 568h2v6h-2zM1043 569h2v5h-2zM1046 570h2v4h-2zM1056 568h2v6h-2zM1063 572h2v2h-2z"/>
<polyline fill="none" stroke="#2962ff" stroke-width="1" stroke-linejoin="round" stroke-linecap="round" points="11.0,563.3 18.8,564.2 31.4,564.2 41.4,563.3 50.2,562.4 55.2,559.6 61.5,557.4 67.8,557.0 75.3,554.5 85.3,553.3 94.1,552.4 102.9,552.7 113.0,551.6 118.0,552.3 123.0,554.9 130.5,556.4 135.5,556.7 143.1,558.3 150.6,558.7 158.1,558.3 165.7,557.4 171.9,556.4 178.2,556.4 190.0,555.8 205.1,555.2 217.7,556.2 230.2,557.7 240.2,559.9 250.3,560.2 260.3,561.2 272.9,562.4 286.7,562.1 299.2,561.7 311.8,561.7 324.3,562.1 336.9,562.7 349.4,563.3 358.2,563.3 370.0,563.6 378.8,563.3 397.7,562.7 416.5,562.4 425.3,562.9 435.3,563.7 447.9,564.9 460.4,565.8 473.0,566.5 485.5,567.1 495.5,567.1 504.3,566.2 516.9,565.2 529.4,564.6 542.0,564.6 546.3,563.3 550.0,561.7 558.8,559.8 571.4,560.4 583.9,561.4 596.5,561.7 607.8,561.7 612.8,563.3 617.8,565.2 627.9,566.2 640.4,566.7 650.4,566.5 659.2,567.5 671.8,567.5 684.3,567.7 696.9,568.1 709.4,568.6 722.0,568.7 730.0,569.0 745.1,569.6 757.7,569.2 770.2,568.3 782.8,567.5 795.3,566.5 807.9,565.8 820.4,565.8 833.0,566.2 851.8,566.7 870.6,566.7 889.4,566.5 910.0,566.5 918.8,566.5 931.4,566.5 943.9,567.5 956.5,565.8 969.0,564.3 981.6,563.6 994.1,562.9 1006.7,562.4 1015.5,562.7 1025.5,564.6 1038.1,565.6 1050.6,566.7 1063.8,567.5"/>
</g>
<g clip-path="url(#cr)">
<rect x="11" y="592.4" width="1423" height="26.9" fill="#f1eef9"/>
<line x1="1434" y1="592.5" x2="11" y2="592.5" stroke="#787b86" stroke-width="1" stroke-dasharray="5 6" stroke-dashoffset="0"/>
<line x1="1434" y1="606.5" x2="11" y2="606.5" stroke="#b9bbc4" stroke-width="1" stroke-dasharray="5 6" stroke-dashoffset="0"/>
<line x1="1434" y1="619.5" x2="11" y2="619.5" stroke="#787b86" stroke-width="1" stroke-dasharray="5 6" stroke-dashoffset="0"/>
<polyline fill="none" stroke="#797b87" stroke-width="1.2" stroke-linejoin="round" stroke-linecap="round" points="11.5,610.4 15.5,613.5 18.5,613.3 21.5,614.6 25.5,613.5 28.5,613.3 31.5,610.8 35.5,612.0 38.5,613.0 41.5,613.3 44.5,617.1 48.5,619.6 51.5,622.1 54.5,625.2 58.5,625.0 61.5,623.7 64.5,626.1 68.5,625.2 71.5,626.5 74.5,619.9 78.5,619.6 81.5,619.9 84.5,621.5 88.5,617.1 91.5,613.0 94.5,612.3 98.5,613.3 101.5,613.9 104.5,615.4 108.5,616.7 111.5,617.4 114.5,617.7 118.5,617.4 121.5,616.8 124.5,611.8 128.5,612.7 131.5,609.5 134.5,606.4 137.5,607.4 141.5,607.3 144.5,610.2 147.5,613.5 151.5,615.8 154.5,610.8 157.5,606.4 161.5,604.1 164.5,599.2 167.5,600.1 171.5,592.6 174.5,594.7 177.5,595.7 181.5,594.1 184.5,596.4 187.5,595.7 191.5,594.5 194.5,602.3 197.5,602.0 201.5,597.0 204.5,593.5 207.5,594.1 211.5,595.5 214.5,596.6 217.5,598.9 221.5,598.9 224.5,599.5 227.5,600.1 231.5,595.4 234.5,597.9 237.5,597.6 240.5,594.8 244.5,599.1 247.5,594.5 250.5,593.2 254.5,591.6 257.5,590.7 260.5,593.8 264.5,595.7 267.5,597.4 270.5,599.7 274.5,599.2 277.5,610.2 280.5,611.4 284.5,609.8 287.5,608.9 290.5,607.0 294.5,607.4 297.5,605.5 300.5,613.0 304.5,613.9 307.5,615.8 310.5,609.5 314.5,610.4 317.5,608.9 320.5,607.0 324.5,607.7 327.5,608.7 330.5,607.3 333.5,605.5 337.5,608.3 340.5,604.5 343.5,603.9 347.5,600.1 350.5,597.6 353.5,598.2 357.5,601.4 360.5,608.9 363.5,605.8 367.5,612.0 370.5,613.5 373.5,611.4 377.5,615.8 380.5,613.5 383.5,615.4 387.5,617.4 390.5,613.3 393.5,613.3 397.5,613.5 400.5,614.3 403.5,612.0 407.5,612.0 410.5,611.4 413.5,611.4 417.5,612.0 420.5,613.0 423.5,614.6 427.5,611.4 430.5,608.3 433.5,608.5 436.5,608.9 440.5,610.2 443.5,611.2 446.5,610.4 450.5,612.4 453.5,613.5 456.5,612.0 460.5,612.4 463.5,611.4 466.5,613.0 470.5,609.9 473.5,606.4 476.5,608.7 480.5,610.8 483.5,611.2 486.5,608.9 490.5,607.0 493.5,602.0 496.5,604.1 500.5,595.7 503.5,590.1 506.5,595.4 510.5,593.8 513.5,590.7 516.5,593.2 520.5,594.7 523.5,594.7 526.5,600.1 529.5,599.2 533.5,593.5 536.5,595.1 539.5,599.5 543.5,599.9 546.5,612.0 549.5,619.3 553.5,610.2 556.5,610.8 559.5,612.0 563.5,612.7 566.5,611.4 569.5,611.2 573.5,612.7 576.5,613.3 579.5,612.4 583.5,612.3 586.5,615.2 589.5,616.4 593.5,614.6 596.5,611.4 599.5,610.2 603.5,610.2 606.5,609.9 609.5,610.8 613.5,612.0 616.5,607.7 619.5,602.9 623.5,604.1 626.5,603.3 629.5,606.8 632.5,604.1 636.5,605.1 639.5,605.5 642.5,607.4 646.5,604.1 649.5,605.8 652.5,605.5 656.5,605.4 659.5,604.1 662.5,600.5 666.5,601.4 669.5,604.5 672.5,612.4 676.5,610.8 679.5,611.0 682.5,612.3 686.5,607.7 689.5,607.7 692.5,607.0 696.5,606.8 699.5,607.3 702.5,607.3 706.5,606.4 709.5,608.3 712.5,610.4 716.5,609.2 719.5,608.9 722.5,609.3 725.5,608.3 729.5,606.4 732.5,606.1 735.5,600.5 739.5,601.4 742.5,599.2 745.5,600.1 749.5,597.0 752.5,593.5 755.5,592.0 759.5,588.4 762.5,586.3 765.5,584.4 769.5,581.5 772.5,581.3 775.5,580.7 779.5,582.6 782.5,590.7 785.5,587.9 789.5,584.8 792.5,588.4 795.5,588.4 799.5,588.6 802.5,596.6 805.5,593.8 809.5,594.7 812.5,595.5 815.5,597.9 819.5,593.6 822.5,600.7 825.5,599.5 828.5,596.4 832.5,596.4 835.5,595.5 838.5,595.5 842.5,598.9 845.5,600.5 848.5,596.6 852.5,598.9 855.5,607.3 858.5,609.5 862.5,607.0 865.5,608.9 868.5,609.8 872.5,606.4 875.5,598.2 878.5,600.7 882.5,598.2 885.5,598.2 888.5,599.2 892.5,597.9 895.5,601.4 898.5,602.9 902.5,602.4 905.5,606.1 908.5,606.8 912.5,603.3 915.5,603.9 918.5,605.8 922.5,601.4 925.5,603.3 928.5,609.2 931.5,609.3 935.5,609.5 938.5,609.3 941.5,609.8 945.5,612.0 948.5,618.3 951.5,617.4 955.5,613.3 958.5,603.9 961.5,598.9 965.5,597.9 968.5,601.4 971.5,600.1 975.5,594.8 978.5,597.0 981.5,596.4 985.5,599.7 988.5,596.4 991.5,600.7 995.5,597.4 998.5,601.1 1001.5,601.8 1005.5,600.1 1008.5,603.9 1011.5,601.0 1015.5,600.1 1018.5,599.7 1021.5,598.6 1024.5,598.9 1028.5,600.5 1031.5,599.9 1034.5,596.4 1038.5,594.5 1041.5,597.6 1044.5,598.9 1048.5,599.9 1051.5,599.5 1054.5,596.1 1058.5,598.2 1061.5,596.4 1064.5,596.7"/>
</g>
<rect x="11" y="520" width="1492" height="1" fill="#e0e3eb"/>
<rect x="11" y="574" width="1492" height="1" fill="#e0e3eb"/>
<text x="1444.2" y="45.1" font-size="12.4" fill="#131722" textLength="26.9" lengthAdjust="spacingAndGlyphs">USDT</text>
<text x="1444.2" y="80.1" font-size="12.4" fill="#131722" textLength="41.7" lengthAdjust="spacingAndGlyphs">2400.00</text>
<text x="1444.2" y="136.2" font-size="12.4" fill="#131722" textLength="41.7" lengthAdjust="spacingAndGlyphs">2200.00</text>
<text x="1444.2" y="192.3" font-size="12.4" fill="#131722" textLength="41.7" lengthAdjust="spacingAndGlyphs">2000.00</text>
<text x="1444.2" y="248.4" font-size="12.4" fill="#131722" textLength="41.7" lengthAdjust="spacingAndGlyphs">1800.00</text>
<text x="1444.2" y="360.7" font-size="12.4" fill="#131722" textLength="41.7" lengthAdjust="spacingAndGlyphs">1400.00</text>
<text x="1444.2" y="416.8" font-size="12.4" fill="#131722" textLength="41.7" lengthAdjust="spacingAndGlyphs">1200.00</text>
<text x="1444.2" y="472.9" font-size="12.4" fill="#131722" textLength="41.7" lengthAdjust="spacingAndGlyphs">1000.00</text>
<text x="1444.2" y="545.0" font-size="12.4" fill="#131722" textLength="25" lengthAdjust="spacingAndGlyphs">2.5M</text>
<text x="1444.2" y="610.2" font-size="12.4" fill="#131722" textLength="29" lengthAdjust="spacingAndGlyphs">50.00</text>
<rect x="1434" y="171" width="59" height="17" rx="2" fill="#2962ff"/>
<rect x="1434" y="171" width="5" height="17" fill="#2962ff"/>
<text x="1444.2" y="184.1" font-size="12.4" fill="#fff" font-weight="700" textLength="41.7" lengthAdjust="spacingAndGlyphs">2030.00</text>
<rect x="1372" y="204" width="61" height="17" rx="2" fill="#f23645"/>
<rect x="1428" y="204" width="5" height="17" fill="#f23645"/>
<text x="1378" y="217.1" font-size="12.4" fill="#fff" font-weight="700" textLength="48.9" lengthAdjust="spacingAndGlyphs">ETHUSDT</text>
<rect x="1434" y="204" width="59" height="17" rx="2" fill="#f23645"/>
<rect x="1434" y="204" width="5" height="17" fill="#f23645"/>
<text x="1444.2" y="217.1" font-size="12.4" fill="#fff" font-weight="700" textLength="41.7" lengthAdjust="spacingAndGlyphs">1913.19</text>
<rect x="1399" y="250" width="34" height="17" rx="2" fill="#2962ff"/>
<rect x="1428" y="250" width="5" height="17" fill="#2962ff"/>
<text x="1405" y="263.1" font-size="12.4" fill="#fff" font-weight="700" textLength="22.5" lengthAdjust="spacingAndGlyphs">EMA</text>
<rect x="1434" y="250" width="59" height="17" rx="2" fill="#2962ff"/>
<rect x="1434" y="250" width="5" height="17" fill="#2962ff"/>
<text x="1444.2" y="263.1" font-size="12.4" fill="#fff" font-weight="700" textLength="41.7" lengthAdjust="spacingAndGlyphs">1748.00</text>
<rect x="1434" y="267" width="59" height="17" rx="2" fill="#2962ff"/>
<rect x="1434" y="267" width="5" height="17" fill="#2962ff"/>
<text x="1444.2" y="280.1" font-size="12.4" fill="#fff" font-weight="700" textLength="41.7" lengthAdjust="spacingAndGlyphs">1714.68</text>
<rect x="1399" y="287" width="34" height="17" rx="2" fill="#f23645"/>
<rect x="1428" y="287" width="5" height="17" fill="#f23645"/>
<text x="1405" y="300.1" font-size="12.4" fill="#fff" font-weight="700" textLength="22.5" lengthAdjust="spacingAndGlyphs">EMA</text>
<rect x="1434" y="287" width="59" height="17" rx="2" fill="#f23645"/>
<rect x="1434" y="287" width="5" height="17" fill="#f23645"/>
<text x="1444.2" y="300.1" font-size="12.4" fill="#fff" font-weight="700" textLength="41.7" lengthAdjust="spacingAndGlyphs">1615.36</text>
<rect x="1434" y="362" width="59" height="17" rx="2" fill="#2962ff"/>
<rect x="1434" y="362" width="5" height="17" fill="#2962ff"/>
<text x="1444.2" y="375.1" font-size="12.4" fill="#fff" font-weight="700" textLength="41.7" lengthAdjust="spacingAndGlyphs">1349.00</text>
<rect x="1434" y="439" width="59" height="17" rx="2" fill="#ff9800"/>
<rect x="1434" y="439" width="5" height="17" fill="#ff9800"/>
<text x="1444.2" y="452.1" font-size="12.4" fill="#10131c" textLength="41.7" lengthAdjust="spacingAndGlyphs">1073.53</text>
<rect x="1434" y="493" width="52" height="17" rx="2" fill="#ff9800"/>
<rect x="1434" y="493" width="5" height="17" fill="#ff9800"/>
<text x="1444.2" y="506.1" font-size="12.4" fill="#10131c" textLength="35.4" lengthAdjust="spacingAndGlyphs">881.56</text>
<rect x="1363" y="541" width="70" height="17" rx="2" fill="#2962ff"/>
<rect x="1428" y="541" width="5" height="17" fill="#2962ff"/>
<text x="1369" y="554.1" font-size="12.4" fill="#fff" font-weight="700" textLength="58" lengthAdjust="spacingAndGlyphs">Volume MA</text>
<rect x="1434" y="541" width="66" height="17" rx="2" fill="#2962ff"/>
<rect x="1434" y="541" width="5" height="17" fill="#2962ff"/>
<text x="1444.2" y="554.1" font-size="12.4" fill="#fff" font-weight="700" textLength="49.5" lengthAdjust="spacingAndGlyphs">429.548K</text>
<g clip-path="url(#cvl)">
<rect x="1382" y="558" width="51" height="17" rx="2" fill="#ef5350"/>
<rect x="1428" y="558" width="5" height="17" fill="#ef5350"/>
<text x="1388" y="571.1" font-size="12.4" fill="#fff" font-weight="700" textLength="39" lengthAdjust="spacingAndGlyphs">Volume</text>
<rect x="1434" y="558" width="59" height="17" rx="2" fill="#ef5350"/>
<rect x="1434" y="558" width="5" height="17" fill="#ef5350"/>
<text x="1444.2" y="571.1" font-size="12.4" fill="#fff" font-weight="700" textLength="42.6" lengthAdjust="spacingAndGlyphs">72.021K</text>
</g>
<rect x="1405" y="589" width="28" height="17" rx="2" fill="#787b86"/>
<rect x="1428" y="589" width="5" height="17" fill="#787b86"/>
<text x="1411" y="602.1" font-size="12.4" fill="#fff" font-weight="700" textLength="16.3" lengthAdjust="spacingAndGlyphs">RSI</text>
<rect x="1434" y="589" width="46" height="17" rx="2" fill="#787b86"/>
<rect x="1434" y="589" width="5" height="17" fill="#787b86"/>
<text x="1444.2" y="602.1" font-size="12.4" fill="#fff" font-weight="700" textLength="28.7" lengthAdjust="spacingAndGlyphs">62.51</text>
<g clip-path="url(#ct)">
<text x="5.9" y="649.8" font-size="12.4" fill="#131722" textLength="18.1" lengthAdjust="spacingAndGlyphs">Jun</text>
<text x="106.8" y="649.8" font-size="12.4" fill="#131722" textLength="15.6" lengthAdjust="spacingAndGlyphs">Jul</text>
<text x="207.9" y="649.8" font-size="12.4" fill="#131722" textLength="19.3" lengthAdjust="spacingAndGlyphs">Aug</text>
<text x="311.3" y="649.8" font-size="12.4" fill="#131722" textLength="18.6" lengthAdjust="spacingAndGlyphs">Sep</text>
<text x="410.9" y="649.8" font-size="12.4" fill="#131722" textLength="18.6" lengthAdjust="spacingAndGlyphs">Oct</text>
<text x="513.2" y="649.8" font-size="12.4" fill="#131722" textLength="20.1" lengthAdjust="spacingAndGlyphs">Nov</text>
<text x="613.1" y="649.8" font-size="12.4" fill="#131722" textLength="19.6" lengthAdjust="spacingAndGlyphs">Dec</text>
<text x="712.3" y="649.8" font-size="12.4" fill="#131722" font-weight="700" textLength="27.1" lengthAdjust="spacingAndGlyphs">2023</text>
<text x="819.2" y="649.8" font-size="12.4" fill="#131722" textLength="19.3" lengthAdjust="spacingAndGlyphs">Feb</text>
<text x="912.2" y="649.8" font-size="12.4" fill="#131722" textLength="19.3" lengthAdjust="spacingAndGlyphs">Mar</text>
<text x="1015.7" y="649.8" font-size="12.4" fill="#131722" textLength="18.3" lengthAdjust="spacingAndGlyphs">Apr</text>
<text x="1114.1" y="649.8" font-size="12.4" fill="#131722" textLength="20.9" lengthAdjust="spacingAndGlyphs">May</text>
<text x="1218.5" y="649.8" font-size="12.4" fill="#131722" textLength="18.1" lengthAdjust="spacingAndGlyphs">Jun</text>
<text x="1319.4" y="649.8" font-size="12.4" fill="#131722" textLength="15.6" lengthAdjust="spacingAndGlyphs">Jul</text>
<text x="1420.5" y="649.8" font-size="12.4" fill="#131722" textLength="19.3" lengthAdjust="spacingAndGlyphs">Aug</text>
</g>
<text y="18.7" font-size="12.4" fill="#131722"><tspan x="10.5" textLength="102.8" lengthAdjust="spacingAndGlyphs">londoncallingkripto</tspan> <tspan x="118.1" textLength="49.9" lengthAdjust="spacingAndGlyphs">published</tspan> <tspan x="172.5" textLength="12.7" lengthAdjust="spacingAndGlyphs">on</tspan> <tspan x="189.3" textLength="94.0" lengthAdjust="spacingAndGlyphs">TradingView.com,</tspan> <tspan x="288.1" textLength="15.8" lengthAdjust="spacingAndGlyphs">Apr</tspan> <tspan x="310.2" textLength="15.2" lengthAdjust="spacingAndGlyphs">13,</tspan> <tspan x="330.8" textLength="24.0" lengthAdjust="spacingAndGlyphs">2023</tspan> <tspan x="360.3" textLength="27.3" lengthAdjust="spacingAndGlyphs">11:22</tspan> <tspan x="392.6" textLength="33.4" lengthAdjust="spacingAndGlyphs">UTC+7</tspan></text>
<path fill="#1e222d" d="M10 672.2h8.3v9.7h-4.2v-5.6H10zM21.2 674.2m-1.9 0a1.9 1.9 0 1 0 3.8 0a1.9 1.9 0 1 0 -3.8 0zM25.3 672.2h4.4l-4 9.7h-4.4z"/>
<text x="33.3" y="681.9" font-size="13" fill="#2a2e39" textLength="70.2" lengthAdjust="spacingAndGlyphs">TradingView</text>
</svg>
</body></html>
